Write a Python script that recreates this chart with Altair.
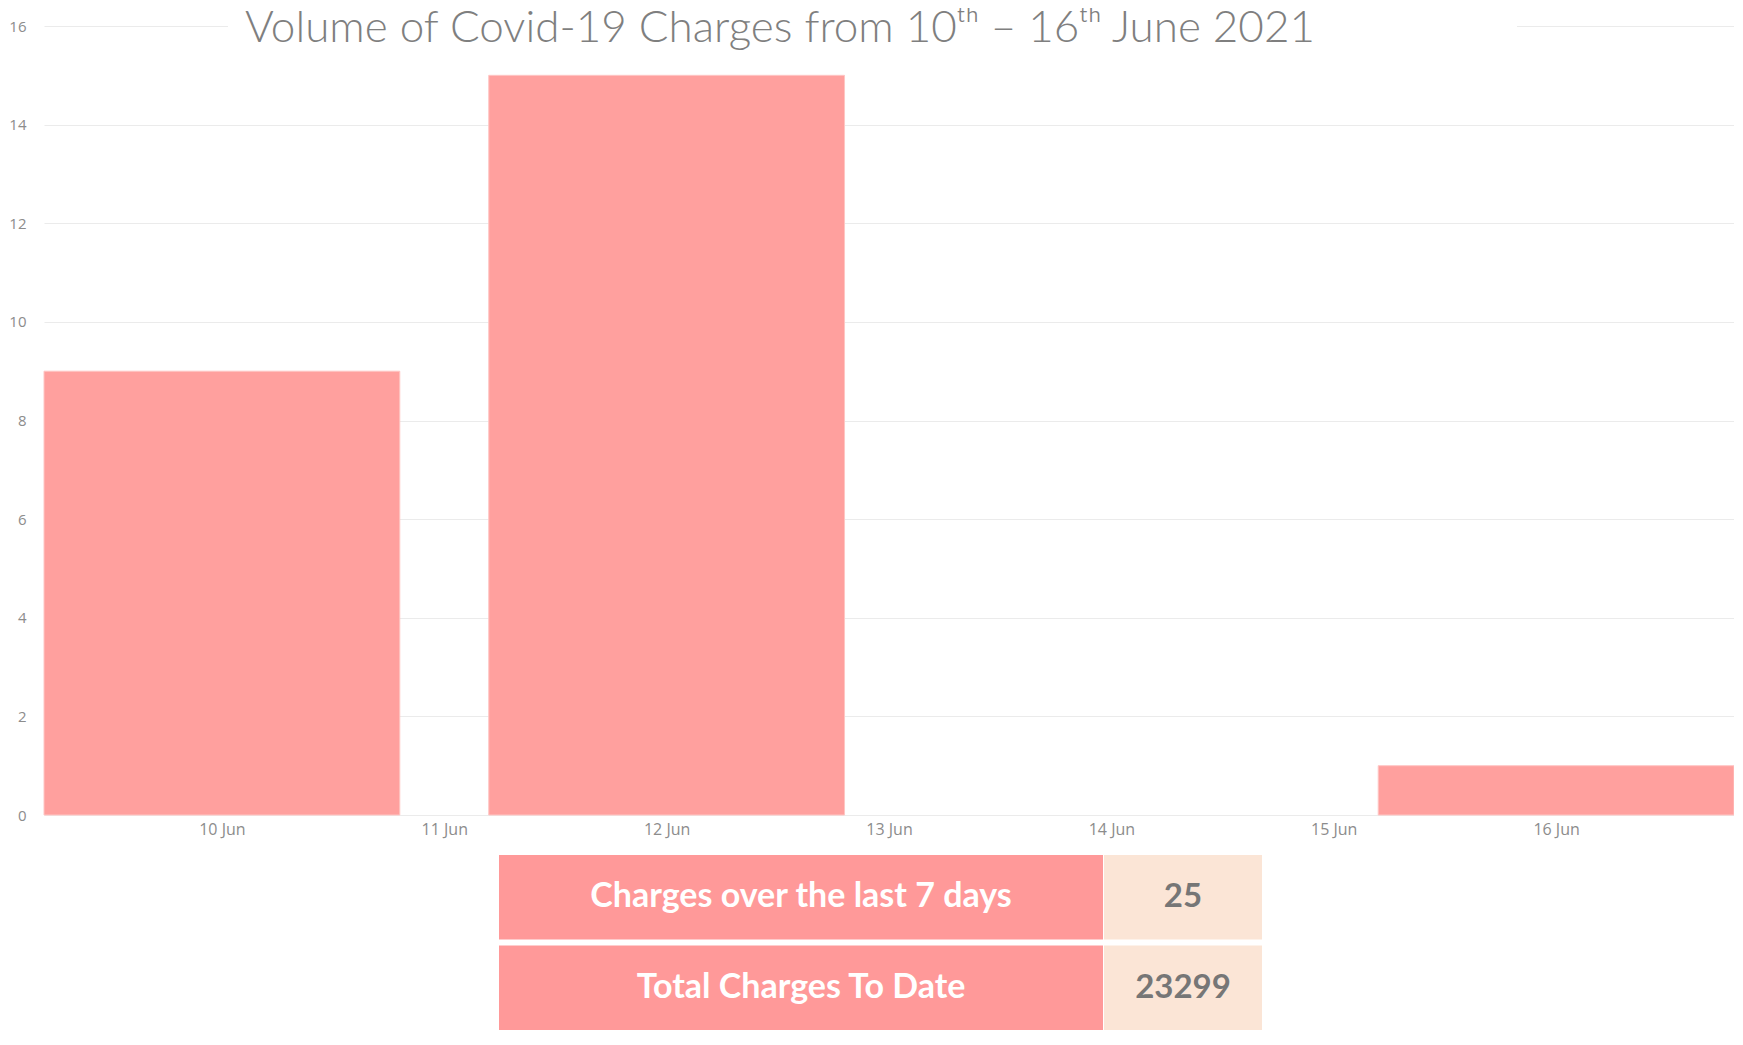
import altair as alt
import pandas as pd

# ---- data ----
days = [10, 11, 12, 13, 14, 15, 16]
charges = [9, 0, 15, 0, 0, 0, 1]
x_ticks = [10, 11, 12, 13, 14, 15, 16]
y_ticks = [0, 2, 4, 6, 8, 10, 12, 14, 16]
title_text = "Volume of Covid-19 Charges from 10ᵗʰ – 16ᵗʰ June 2021"
table_labels = ["Charges over the last 7 days", "Total Charges To Date"]
table_values = ["25", "23299"]

W, H = 1690, 789
HALF = 0.8  # half bar width, in days

bars_df = pd.DataFrame({"day": days, "charges": charges})
title_df = pd.DataFrame({"t": [title_text]})
table_df = pd.DataFrame({"label": table_labels, "value": table_values})

x_scale = alt.Scale(domain=[10 - HALF, 16 + HALF], nice=False, zero=False, padding=0)
y_scale = alt.Scale(domain=[0, 16], nice=False, padding=0)

x_axis = alt.Axis(values=x_ticks, labelExpr="datum.value + ' Jun'", grid=False,
                  ticks=False, domain=False, title=None, labelFont="Open Sans",
                  labelFontSize=16, labelColor="#8c8c8c", labelPadding=6)
y_axis = alt.Axis(values=y_ticks, grid=True, gridColor="#ebebeb", gridWidth=1,
                  ticks=False, domain=False, title=None, labelFont="Open Sans",
                  labelFontSize=15, labelColor="#8c8c8c", labelPadding=18)

bars = alt.Chart(bars_df).transform_filter("datum.charges > 0").transform_calculate(
    x0=f"datum.day - {HALF}", x1=f"datum.day + {HALF}"
).mark_bar(color="#FFA09E", stroke="#FFC6C4", strokeWidth=1).encode(
    x=alt.X("x0:Q", scale=x_scale, axis=x_axis),
    x2="x1:Q",
    y=alt.Y("charges:Q", scale=y_scale, axis=y_axis),
    y2=alt.datum(0),
)

title_bg = alt.Chart(title_df).mark_rect(color="white").encode(
    x=alt.value(184), x2=alt.value(1473), y=alt.value(-6), y2=alt.value(6)
)
title = alt.Chart(title_df).mark_text(
    font="Lato", fontSize=44, fontWeight=300, color="#7f7f7f",
    align="center", baseline="alphabetic"
).encode(x=alt.value(736), y=alt.value(16), text="t:N")

main = alt.layer(bars, title_bg, title)

row_scale = alt.Scale(range=[829, 1004], paddingInner=0.066, paddingOuter=0)
row_y = alt.Y("label:N", sort=table_labels, scale=row_scale, axis=None)

red_cells = alt.Chart(table_df).mark_rect(color="#FF9999").encode(
    y=row_y, x=alt.value(455), x2=alt.value(1059)
)
peach_cells = alt.Chart(table_df).mark_rect(color="#FBE5D6").encode(
    y=row_y, x=alt.value(1060), x2=alt.value(1218)
)
label_text = alt.Chart(table_df).mark_text(
    font="Lato", fontWeight="bold", fontSize=34, color="white",
    align="center", baseline="middle"
).encode(y=row_y, x=alt.value(757), text="label:N")
value_text = alt.Chart(table_df).mark_text(
    font="Lato", fontWeight="bold", fontSize=33, color="#767676",
    align="center", baseline="middle"
).encode(y=row_y, x=alt.value(1139), text="value:N")

table = alt.layer(red_cells, peach_cells, label_text, value_text)

chart = alt.layer(main, table).resolve_scale(y="independent").properties(
    width=W, height=H,
    autosize=alt.AutoSizeParams(type="none"),
    padding={"left": 36, "top": 18, "right": 0, "bottom": 216},
    background="white",
).configure_view(stroke=None)

chart.save("out.html", embed_options={"renderer": "svg", "actions": False})
